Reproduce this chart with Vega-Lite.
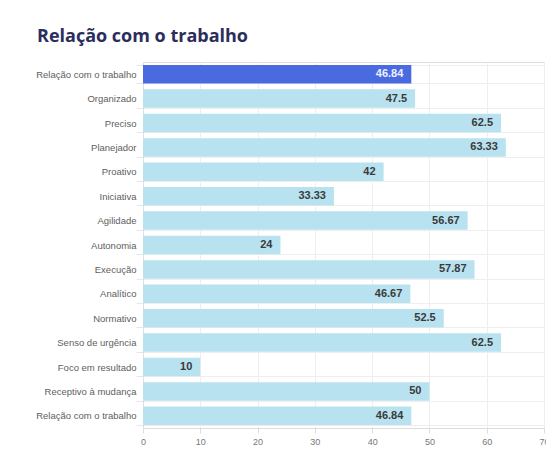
{
  "$schema": "https://vega.github.io/schema/vega-lite/v6.json",
  "autosize": "none",
  "width": 401,
  "height": 366,
  "padding": {"left": 143, "top": 62, "right": 2, "bottom": 35},
  "background": "white",
  "title": {
    "text": "Relação com o trabalho",
    "anchor": "start",
    "frame": "group",
    "dx": -106,
    "offset": 11,
    "font": "Open Sans",
    "fontSize": 18,
    "fontWeight": 700,
    "color": "#2b2d5c"
  },
  "data": {
    "values": [
      {"categoria": "Relação com o trabalho", "valor": 46.84, "grupo": "geral"},
      {"categoria": "Organizado", "valor": 47.5, "grupo": "item"},
      {"categoria": "Preciso", "valor": 62.5, "grupo": "item"},
      {"categoria": "Planejador", "valor": 63.33, "grupo": "item"},
      {"categoria": "Proativo", "valor": 42, "grupo": "item"},
      {"categoria": "Iniciativa", "valor": 33.33, "grupo": "item"},
      {"categoria": "Agilidade", "valor": 56.67, "grupo": "item"},
      {"categoria": "Autonomia", "valor": 24, "grupo": "item"},
      {"categoria": "Execução", "valor": 57.87, "grupo": "item"},
      {"categoria": "Analítico", "valor": 46.67, "grupo": "item"},
      {"categoria": "Normativo", "valor": 52.5, "grupo": "item"},
      {"categoria": "Senso de urgência", "valor": 62.5, "grupo": "item"},
      {"categoria": "Foco em resultado", "valor": 10, "grupo": "item"},
      {"categoria": "Receptivo à mudança", "valor": 50, "grupo": "item"},
      {"categoria": "Relação com o trabalho ", "valor": 46.84, "grupo": "item"}
    ]
  },
  "encoding": {
    "y": {
      "field": "categoria",
      "type": "nominal",
      "sort": null,
      "title": null,
      "scale": {"paddingInner": 0.24, "paddingOuter": 0.12},
      "axis": {
        "tickBand": "extent",
        "grid": true,
        "gridColor": "#eeeeee",
        "ticks": true,
        "tickSize": 7,
        "tickColor": "#e6e6e6",
        "domainColor": "#e0e0e0",
        "labelFont": "Liberation Sans",
        "labelFontSize": 9.5,
        "labelColor": "#606060",
        "labelPadding": 0
      }
    },
    "x": {
      "field": "valor",
      "type": "quantitative",
      "title": null,
      "scale": {"domain": [0, 70], "nice": false},
      "axis": {
        "values": [0, 10, 20, 30, 40, 50, 60, 70],
        "grid": true,
        "gridColor": "#eeeeee",
        "tickColor": "#dddddd",
        "tickSize": 5,
        "domainColor": "#dddddd",
        "labelFlush": false,
        "labelOverlap": false,
        "labelFont": "Liberation Sans",
        "labelFontSize": 9,
        "labelColor": "#777777",
        "labelPadding": 4
      }
    }
  },
  "layer": [
    {
      "mark": {"type": "bar"},
      "encoding": {
        "color": {
          "field": "grupo",
          "type": "nominal",
          "scale": {"domain": ["geral", "item"], "range": ["#4a6bdf", "#b8e2f0"]},
          "legend": null
        }
      }
    },
    {
      "mark": {"type": "text", "align": "right", "dx": -8, "font": "Liberation Sans", "fontSize": 11, "fontWeight": "bold"},
      "encoding": {
        "text": {"field": "valor", "type": "quantitative"},
        "color": {
          "field": "grupo",
          "type": "nominal",
          "scale": {"domain": ["geral", "item"], "range": ["#eef1ff", "#3a3a3a"]},
          "legend": null
        }
      }
    }
  ],
  "resolve": {"scale": {"color": "independent"}}
}
